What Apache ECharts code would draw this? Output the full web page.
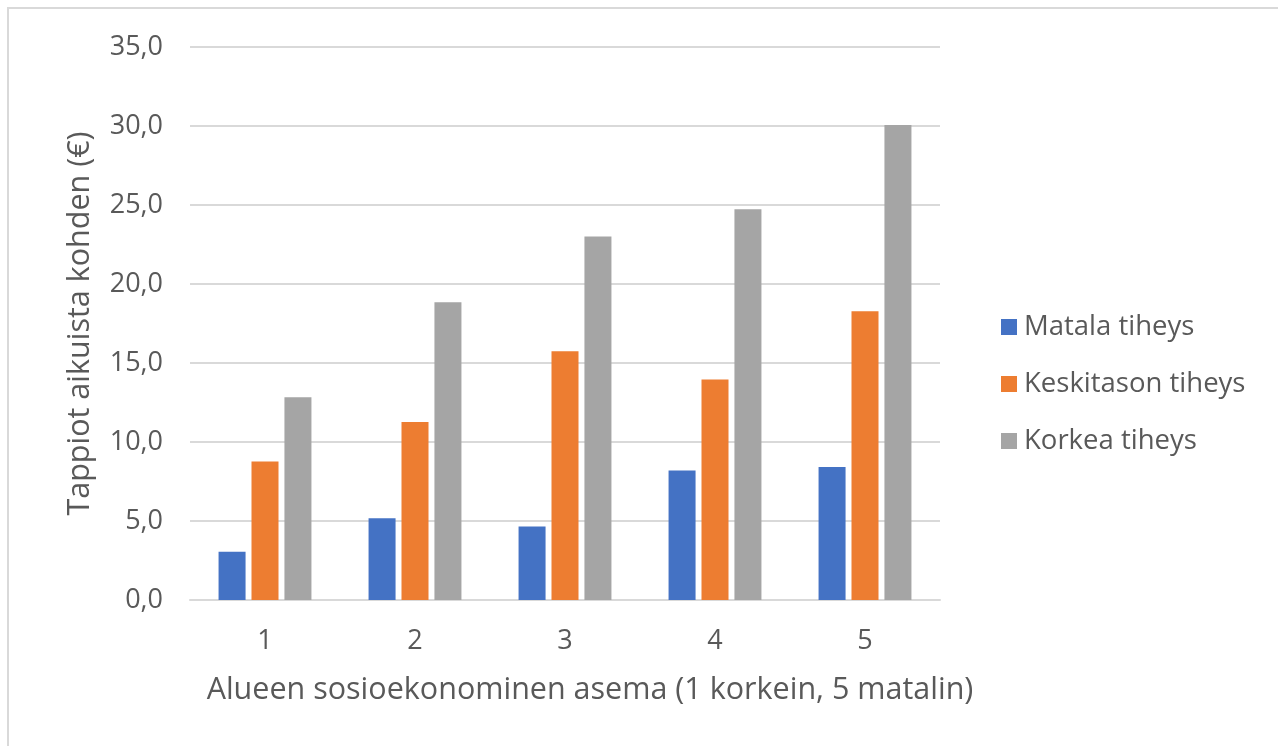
<!DOCTYPE html>
<html>
<head>
<meta charset="utf-8">
<script src="https://cdn.jsdelivr.net/npm/echarts@6/dist/echarts.min.js"></script>
<style>
html,body{margin:0;padding:0;background:#fff;}
#c{width:1278px;height:746px;}
</style>
</head>
<body>
<div id="c"></div>
<script>
const categories = ['1', '2', '3', '4', '5'];
const seriesNames = ['Matala tiheys', 'Keskitason tiheys', 'Korkea tiheys'];
const matala = [3.06, 5.18, 4.65, 8.2, 8.41];
const keskitaso = [8.77, 11.27, 15.74, 13.95, 18.28];
const korkea = [12.83, 18.85, 23.0, 24.73, 30.07];
const colors = ['#4472c4', '#ed7d31', '#a5a5a5'];
const yTicks = [0, 5, 10, 15, 20, 25, 30, 35];

const chart = echarts.init(document.getElementById('c'));
const font = '"Open Sans", "Noto Sans", sans-serif';
const txt = '#595959';
chart.setOption({
  animation: false,
  color: colors,
  textStyle: { fontFamily: font },
  graphic: [{
    type: 'polyline',
    shape: { points: [[8, 760], [8, 8], [1290, 8]] },
    style: { stroke: '#d9d9d9', lineWidth: 2, fill: null }
  }],
  grid: { left: 190, right: 338, top: 47, bottom: 146 },
  legend: {
    orient: 'vertical',
    left: 996, top: 308,
    itemWidth: 16, itemHeight: 16, itemGap: 29,
    icon: 'rect',
    data: seriesNames,
    textStyle: { fontSize: 27.5, color: txt, fontFamily: font, padding: [0, 0, 0, 2] }
  },
  xAxis: {
    type: 'category',
    data: categories,
    axisTick: { show: false },
    axisLine: { lineStyle: { color: '#d9d9d9', width: 2 } },
    axisLabel: { fontSize: 27, color: txt, margin: 28 },
    name: 'Alueen sosioekonominen asema (1 korkein, 5 matalin)',
    nameLocation: 'middle',
    nameGap: 75,
    nameTextStyle: { fontSize: 30.5, color: txt, padding: [0, 0, 0, 50] }
  },
  yAxis: {
    type: 'value',
    min: 0, max: 35, interval: 5,
    axisLine: { show: false },
    axisTick: { show: false },
    splitLine: { lineStyle: { color: '#d9d9d9', width: 2 } },
    axisLabel: {
      fontSize: 27, color: txt, margin: 27,
      formatter: v => yTicks.includes(v) ? v.toFixed(1).replace('.', ',') : ''
    },
    name: 'Tappiot aikuista kohden (€)',
    nameLocation: 'middle',
    nameGap: 94,
    nameTextStyle: { fontSize: 30.5, color: txt }
  },
  series: [
    { name: seriesNames[0], type: 'bar', data: matala, barWidth: 27, barGap: '22%' },
    { name: seriesNames[1], type: 'bar', data: keskitaso, barWidth: 27, barGap: '22%' },
    { name: seriesNames[2], type: 'bar', data: korkea, barWidth: 27, barGap: '22%' }
  ]
});
</script>
</body>
</html>
